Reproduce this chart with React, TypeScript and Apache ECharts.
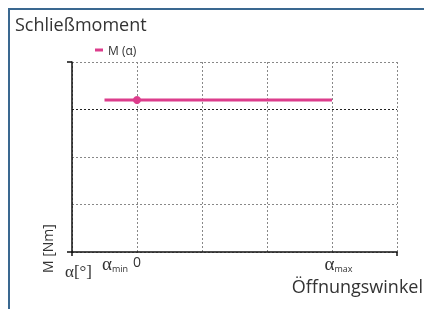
import React, { useEffect, useRef } from "react";
import * as echarts from "echarts";

const seriesName = "M (α)";
const xValues = [-0.5, 0, 3];
const yValues = [3.2, 3.2, 3.2];
const markerIndex = 1;
const xLabelValues = [-0.5, 0, 3];
const xLabelTexts = ["{a1|α}{s|min}", "{n|0}", "{a2|α}{s|max}"];
const xMin = -1, xMax = 4, xInterval = 1;
const yMin = 0, yMax = 4, yInterval = 1;

const PINK = "#dc3d8c";
const SANS = "'Open Sans', 'Noto Sans', sans-serif";
const SERIF = "'Liberation Serif', 'DejaVu Serif', serif";

export default function App() {
  const ref = useRef<HTMLDivElement>(null);
  useEffect(() => {
    document.documentElement.style.overflow = "hidden";
    document.body.style.overflow = "hidden";
    const chart = echarts.init(ref.current!, null, { renderer: "svg" });
    const data = xValues.map((x, i) =>
      i === markerIndex ? { value: [x, yValues[i]] } : { value: [x, yValues[i]], symbol: "none" }
    );
    chart.setOption({
      animation: false,
      title: {
        text: "Schließmoment",
        left: 10,
        top: 10,
        textStyle: { fontFamily: SANS, fontSize: 18, fontWeight: "normal", color: "#333" },
      },
      legend: {
        left: 90,
        top: 39,
        itemWidth: 8,
        itemHeight: 3,
        itemGap: 4,
        icon: "rect",
        textStyle: { fontFamily: SANS, fontSize: 12, color: "#333" },
        data: [seriesName],
      },
      grid: { left: 72, top: 62, right: 27, bottom: 57, containLabel: false },
      xAxis: [
        {
          type: "value",
          min: xMin,
          max: xMax,
          interval: xInterval,
          axisLine: { show: true, onZero: false, lineStyle: { color: "#111", width: 1.5 } },
          axisTick: { show: false },
          axisLabel: {
            show: true,
            customValues: xLabelValues,
            margin: 2,
            formatter: (v: number) => xLabelTexts[xLabelValues.indexOf(v)] ?? "",
            rich: {
              a1: { fontFamily: SERIF, fontSize: 19, color: "#333", padding: [0, 0, 0, 21] },
              a2: { fontFamily: SERIF, fontSize: 19, color: "#333", padding: [0, 0, 0, 13] },
              s: { fontFamily: SANS, fontSize: 9, color: "#333", verticalAlign: "bottom", padding: [7, 0, 0, 0] },
              n: { fontFamily: SANS, fontSize: 14, color: "#333" },
            },
          },
          splitLine: { show: true, lineStyle: { color: "#888", type: [2, 2], width: 1 } },
        },
        {
          type: "value",
          position: "bottom",
          min: xMin,
          max: xMax,
          interval: xInterval,
          axisLine: { show: false, onZero: false },
          axisTick: { show: true, customValues: [xMin, xMax], length: 4, lineStyle: { color: "#111", width: 1.5 } },
          axisLabel: { show: false },
          splitLine: { show: false },
        },
      ],
      yAxis: [
        {
          type: "value",
          min: yMin,
          max: yMax,
          interval: yInterval,
          axisLine: { show: true, onZero: false, lineStyle: { color: "#111", width: 1.5 } },
          axisTick: { show: false },
          axisLabel: { show: false },
          splitLine: {
            show: true,
            lineStyle: { color: ["#888", "#888", "#888", "#222", "#888"], type: [2, 2], width: 1 },
          },
        },
        {
          type: "value",
          position: "left",
          min: yMin,
          max: yMax,
          interval: yInterval,
          axisLine: { show: false, onZero: false },
          axisTick: { show: true, customValues: [yMin, yMax], length: 5, lineStyle: { color: "#111", width: 1.5 } },
          axisLabel: { show: false },
          splitLine: { show: false },
        },
      ],
      series: [
        {
          name: seriesName,
          type: "line",
          data,
          symbol: "circle",
          symbolSize: 8,
          showSymbol: true,
          lineStyle: { color: PINK, width: 3 },
          itemStyle: { color: PINK },
        },
      ],
      graphic: [
        {
          type: "text",
          left: 65,
          top: 263,
          style: { text: "α[°]", fontFamily: SERIF, fontSize: 17, fill: "#333" },
        },
        {
          type: "text",
          x: 40,
          y: 273,
          rotation: Math.PI / 2,
          style: { text: "M [Nm]", fontFamily: SANS, fontSize: 14, fill: "#333", textAlign: "left", textVerticalAlign: "top" },
        },
        {
          type: "text",
          right: 1,
          top: 277,
          style: { text: "Öffnungswinkel", fontFamily: SANS, fontSize: 18, fill: "#333" },
        },
      ],
    });
    return () => chart.dispose();
  }, []);
  return (
    <div>
      <div style={{ position: "fixed", left: 8, top: 8, width: 600, height: 2, background: "#3a6890" }} />
      <div style={{ position: "fixed", left: 8, top: 8, width: 2, height: 400, background: "#3a6890" }} />
      <div ref={ref} style={{ position: "fixed", left: 0, top: 0, width: 424, height: 309 }} />
    </div>
  );
}
